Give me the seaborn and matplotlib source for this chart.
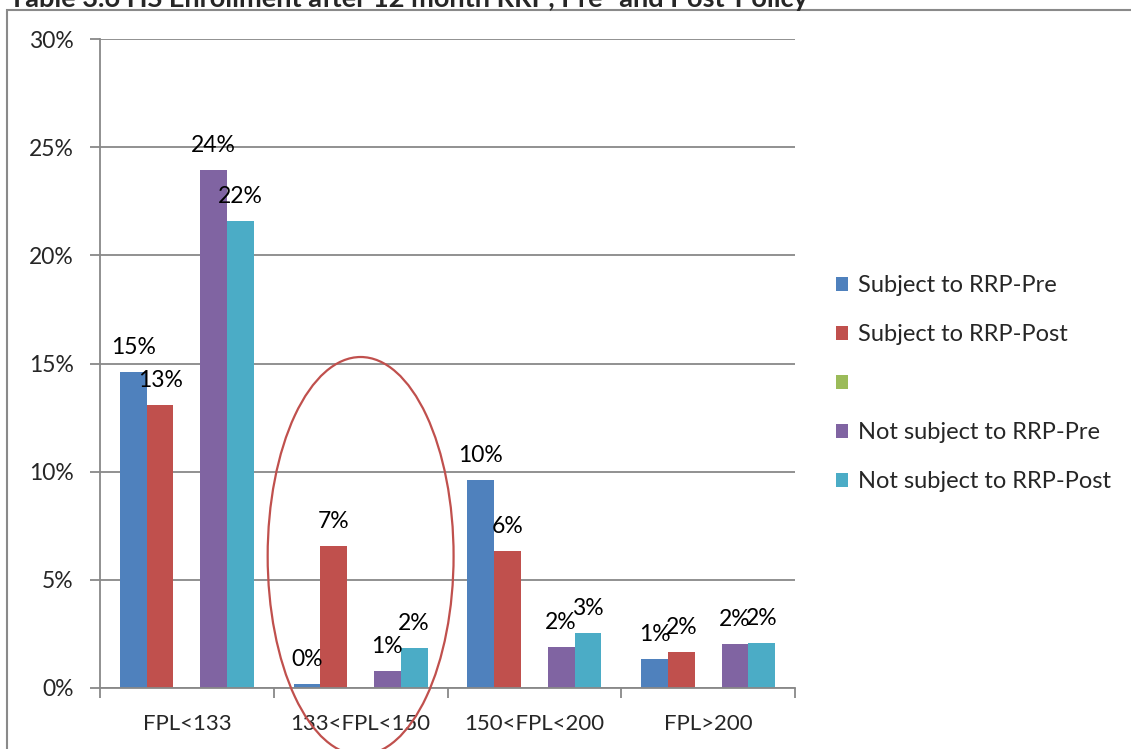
import numpy as np
import pandas as pd
import seaborn as sns
import matplotlib.pyplot as plt
from matplotlib.patches import Ellipse, Rectangle, Patch
from matplotlib.ticker import FixedLocator

categories = ["FPL<133", "133<FPL<150", "150<FPL<200", "FPL>200"]
series_names = ["Subject to RRP-Pre", "Subject to RRP-Post", "",
                "Not subject to RRP-Pre", "Not subject to RRP-Post"]
subj_pre = [0.146, 0.002, 0.096, 0.0134]
subj_post = [0.131, 0.0657, 0.0633, 0.0166]
empty_series = [np.nan, np.nan, np.nan, np.nan]
not_pre = [0.2395, 0.008, 0.019, 0.0203]
not_post = [0.216, 0.0185, 0.0254, 0.0208]
colors = ["#4F81BD", "#C0504D", "#9BBB59", "#8064A2", "#4BACC6"]
title = "Table 3.6 HS Enrollment after 12 month RRP, Pre- and Post-Policy"

all_vals = [subj_pre, subj_post, empty_series, not_pre, not_post]
rows = []
for name, vals in zip(series_names, all_vals):
    for c, v in zip(categories, vals):
        rows.append({"cat": c, "series": name, "val": v})
df = pd.DataFrame(rows)

sns.set_theme(style="white")
plt.rcParams['font.family'] = ['Lato', 'DejaVu Sans']

fig = plt.figure(figsize=(11.31, 7.49), dpi=100)
ax = fig.add_axes([100/1131, 1-688/749, 695/1131, 649/749])

sns.barplot(data=df, x="cat", y="val", hue="series", hue_order=series_names,
            order=categories, palette=colors, width=0.77, dodge=True,
            saturation=1, linewidth=0, errorbar=None, ax=ax, legend=False)

ax.set_ylim(0, 0.30)
ax.set_xlim(-0.5, 3.5)
yt = np.arange(0, 0.31, 0.05)
ax.set_yticks(yt)
ax.set_yticklabels([f"{int(round(t*100))}%" for t in yt], fontsize=16.5)
ax.set_xticks(range(len(categories)))
ax.set_xticklabels(categories, fontsize=16)
ax.xaxis.set_minor_locator(FixedLocator([-0.5, 0.5, 1.5, 2.5, 3.5]))
ax.tick_params(axis='x', which='major', length=0, pad=19)
ax.tick_params(axis='x', which='minor', length=7, color='#888888', width=1.3, bottom=True)
ax.tick_params(axis='y', length=7, color='#888888', width=1.3, left=True, pad=12)
ax.set_xlabel("")
ax.set_ylabel("")
ax.yaxis.grid(True, color='#888888', linewidth=1.3)
ax.set_axisbelow(True)
for s in ["top", "right"]:
    ax.spines[s].set_visible(False)
for s in ["left", "bottom"]:
    ax.spines[s].set_color('#888888')
    ax.spines[s].set_linewidth(1.3)

# data labels
for cont in ax.containers:
    for bar in cont:
        h = bar.get_height()
        if np.isnan(h) or h == 0:
            continue
        ax.annotate(f"{int(round(h*100))}%", (bar.get_x() + bar.get_width()/2, h),
                    xytext=(0, 13), textcoords='offset points',
                    ha='center', va='baseline', fontsize=16.5, color='black')

# red ellipse annotation
ax.add_patch(Ellipse((1.0, 0.061), 1.07, 0.184, fill=False, edgecolor='#C0504D',
                     linewidth=1.6, clip_on=False, zorder=5))

# legend
handles = [Patch(facecolor=c, edgecolor='none') for c in colors]
fig.legend(handles, series_names, loc='upper left',
           bbox_to_anchor=(836/1131, 1-275/749), frameon=False, fontsize=17,
           handlelength=0.52, handleheight=0.52, handletextpad=0.42,
           labelspacing=1.19, borderaxespad=0, borderpad=0)

# figure border (partially visible) and clipped title
fig.patches.append(Rectangle((7/1131, -0.1), 1.2, 1 - 10/749 + 0.1,
                             transform=fig.transFigure, fill=False,
                             edgecolor='#8a8a8a', linewidth=1.5))
fig.text(9/1131, 1 - 7/749, title, ha='left', va='baseline',
         fontsize=19.5, fontweight='bold')

fig.savefig("out.png", dpi=100)
